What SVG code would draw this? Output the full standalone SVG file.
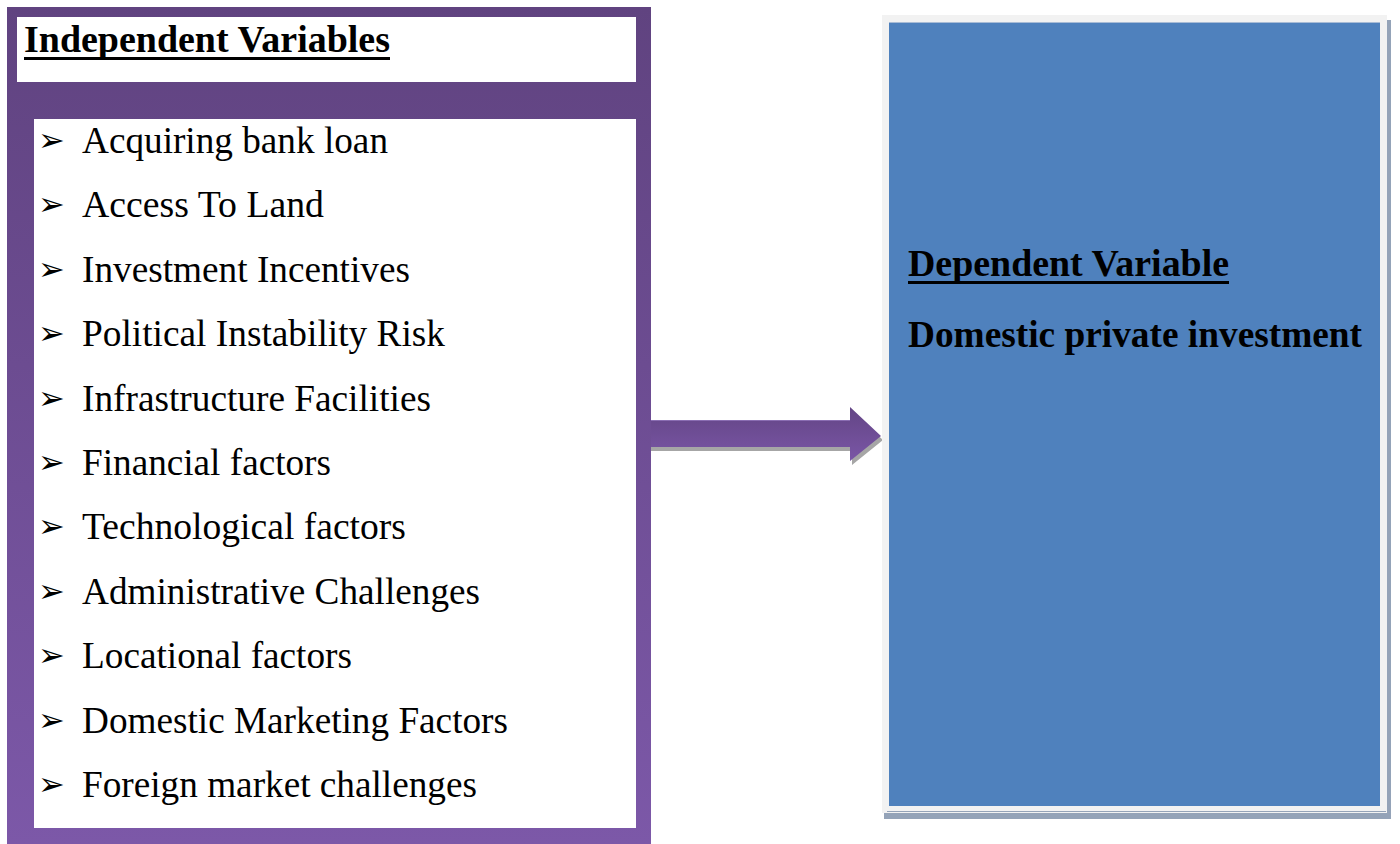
<svg xmlns="http://www.w3.org/2000/svg" width="1400" height="844" viewBox="0 0 1400 844">
  <defs>
    <linearGradient id="purpleFill" x1="0" y1="0" x2="0" y2="1">
      <stop offset="0" stop-color="#604380"/>
      <stop offset="1" stop-color="#7c58a8"/>
    </linearGradient>
    <linearGradient id="arrowFill" x1="0" y1="0" x2="0" y2="1">
      <stop offset="0" stop-color="#634585"/>
      <stop offset="1" stop-color="#7a56a6"/>
    </linearGradient>
  </defs>
  <style>
    .item { font-family: "Liberation Serif", "Times New Roman", serif; font-size: 37px; fill: #000; }
    .bullet { font-family: "DejaVu Sans", sans-serif; font-size: 32px; fill: #000; }
    .heading { font-family: "Liberation Serif", "Times New Roman", serif; font-size: 38px; font-weight: bold; fill: #000; }
  </style>
  <rect width="1400" height="844" fill="#ffffff"/>

  <!-- independent variables panel -->
  <g id="independent">
    <rect x="7" y="7" width="644" height="837" fill="url(#purpleFill)"/>
    <rect x="17" y="17" width="619" height="65" fill="#ffffff"/>
    <text class="heading" x="24" y="52" textLength="366" lengthAdjust="spacingAndGlyphs">Independent Variables</text>
    <rect x="24" y="57" width="366" height="3" fill="#000"/>
    <rect x="34" y="119" width="602" height="709" fill="#ffffff"/>
    <g>
      <text class="bullet" x="38" y="151">➢</text>
      <text class="item" x="82" y="153" textLength="306" lengthAdjust="spacingAndGlyphs">Acquiring bank loan</text>
      <text class="bullet" x="38" y="215">➢</text>
      <text class="item" x="82" y="217" textLength="242" lengthAdjust="spacingAndGlyphs">Access To Land</text>
      <text class="bullet" x="38" y="280">➢</text>
      <text class="item" x="82" y="282" textLength="328" lengthAdjust="spacingAndGlyphs">Investment Incentives</text>
      <text class="bullet" x="38" y="344">➢</text>
      <text class="item" x="82" y="346" textLength="363" lengthAdjust="spacingAndGlyphs">Political Instability Risk</text>
      <text class="bullet" x="38" y="409">➢</text>
      <text class="item" x="82" y="411" textLength="349" lengthAdjust="spacingAndGlyphs">Infrastructure Facilities</text>
      <text class="bullet" x="38" y="473">➢</text>
      <text class="item" x="82" y="475" textLength="249" lengthAdjust="spacingAndGlyphs">Financial factors</text>
      <text class="bullet" x="38" y="537">➢</text>
      <text class="item" x="82" y="539" textLength="324" lengthAdjust="spacingAndGlyphs">Technological factors</text>
      <text class="bullet" x="38" y="602">➢</text>
      <text class="item" x="82" y="604" textLength="398" lengthAdjust="spacingAndGlyphs">Administrative Challenges</text>
      <text class="bullet" x="38" y="666">➢</text>
      <text class="item" x="82" y="668" textLength="270" lengthAdjust="spacingAndGlyphs">Locational factors</text>
      <text class="bullet" x="38" y="731">➢</text>
      <text class="item" x="82" y="733" textLength="426" lengthAdjust="spacingAndGlyphs">Domestic Marketing Factors</text>
      <text class="bullet" x="38" y="795">➢</text>
      <text class="item" x="82" y="797" textLength="395" lengthAdjust="spacingAndGlyphs">Foreign market challenges</text>
    </g>
  </g>

  <!-- connector -->
  <g id="connectors">
    <polygon points="651,424 852,424 852,411 883,440 852,465 852,451 651,451" fill="#a6a6a6"/>
    <polygon points="651,420 850,420 850,407 881,436 850,461 850,447 651,447" fill="url(#arrowFill)"/>
    <line x1="651" y1="420.5" x2="850" y2="420.5" stroke="#8a6db2" stroke-width="1"/>
  </g>

  <!-- dependent variable box -->
  <g id="dependent">
    <rect x="884" y="20" width="507" height="799" fill="#94a3b8"/>
    <rect x="882" y="15" width="505" height="798" fill="#f2f2f2"/>
    <line x1="887" y1="811.5" x2="1386" y2="811.5" stroke="#94a3b8" stroke-width="1"/>
    <rect x="889" y="22" width="491" height="784" fill="#4f81bd"/>
    <line x1="889" y1="22.5" x2="1380" y2="22.5" stroke="#a9bcd6" stroke-width="1"/>
    <text class="heading" x="908" y="276" textLength="321" lengthAdjust="spacingAndGlyphs">Dependent Variable</text>
    <rect x="908" y="281" width="321" height="3" fill="#000"/>
    <text class="heading" x="908" y="347" textLength="454" lengthAdjust="spacingAndGlyphs">Domestic private investment</text>
  </g>
</svg>
